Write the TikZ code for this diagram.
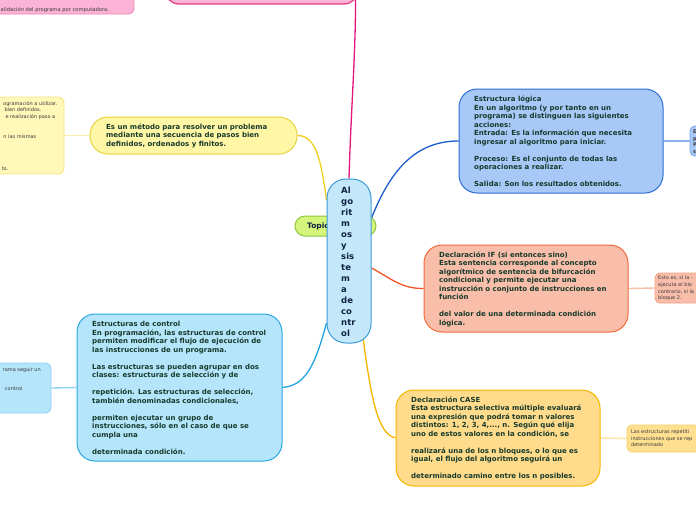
\documentclass[tikz,border=0pt]{standalone}
\usepackage{fontspec}
\setmainfont{DejaVu Sans}
\usetikzlibrary{backgrounds}
\definecolor{txt}{HTML}{173A2B}
\definecolor{ctrtxt}{HTML}{0F2242}
\definecolor{smtxt}{HTML}{3A3A3A}
\definecolor{pkfill}{HTML}{FBB3D6}
\definecolor{pkdraw}{HTML}{EE86BA}
\definecolor{pk2draw}{HTML}{E23A84}
\definecolor{magline}{HTML}{E5157C}
\definecolor{yfill}{HTML}{FFF6A6}
\definecolor{ydraw}{HTML}{EAD33C}
\definecolor{yline}{HTML}{F0D020}
\definecolor{ysfill}{HTML}{FFF8B8}
\definecolor{ysdraw}{HTML}{F6E48A}
\definecolor{ysline}{HTML}{FAF0A6}
\definecolor{cfill}{HTML}{C4E8FA}
\definecolor{cdraw}{HTML}{3B9BD8}
\definecolor{gfill}{HTML}{D5F47C}
\definecolor{gdraw}{HTML}{8FC43E}
\definecolor{bfill}{HTML}{A8C8F8}
\definecolor{bdraw}{HTML}{2C6ED4}
\definecolor{bline}{HTML}{1E5CCB}
\definecolor{bsline}{HTML}{8EB3EC}
\definecolor{bsdraw}{HTML}{7FA9EA}
\definecolor{sfill}{HTML}{F9BEAA}
\definecolor{sdraw}{HTML}{F26A3B}
\definecolor{sline}{HTML}{F05426}
\definecolor{ssdraw}{HTML}{F6A287}
\definecolor{ssline}{HTML}{F9BCA6}
\definecolor{ofill}{HTML}{FFDB8B}
\definecolor{odraw}{HTML}{F6B700}
\definecolor{oline}{HTML}{F4B400}
\definecolor{osfill}{HTML}{FFDF90}
\definecolor{osdraw}{HTML}{FBD06E}
\definecolor{osline}{HTML}{FDE4A6}
\definecolor{lfill}{HTML}{B4E5FB}
\definecolor{ldraw}{HTML}{2AA7E2}
\definecolor{lline}{HTML}{22A2DF}
\definecolor{lsdraw}{HTML}{8ED3F3}
\definecolor{lsline}{HTML}{90D4F3}
\tikzset{
  shapebox/.style={draw, line width=1pt, rounded corners=16pt, inner sep=0pt},
  sidebox/.style={draw, line width=0.9pt, rounded corners=5pt, inner sep=0pt},
  bigtext/.style={anchor=west, align=left, inner sep=0pt, text=txt, font=\bfseries\fontsize{7}{8.5}\selectfont},
  smalltext/.style={inner sep=0pt, text=smtxt, font=\fontsize{5}{6.6}\selectfont, align=left},
  conn/.style={line width=1.3pt},
  sideconn/.style={line width=1.4pt},
}
\begin{document}
\begin{tikzpicture}[x=1pt,y=-1pt]
\useasboundingbox (0,0) rectangle (696,520);
\clip (0,0) rectangle (696,520);

% top-left pink (partial)
\node[sidebox, fill=pkfill, draw=pkdraw, rounded corners=6pt, minimum width=154pt, minimum height=44pt] (pk1) at (57,-8) {};
\node[smalltext, anchor=base west, font=\fontsize{5.2}{6.6}\selectfont] (pk1t) at (0.5,11) {alidación del programa por computadora.};

% top centre pink (partial)
\node[shapebox, fill=pkfill, draw=pk2draw, line width=1.2pt, rounded corners=14pt, minimum width=193pt, minimum height=44pt] (pk2) at (261.5,-18) {};

% left small yellow (partial)
\node[sidebox, fill=ysfill, draw=ysdraw, rounded corners=6pt, minimum width=84pt, minimum height=77pt] (ysm) at (22,135.5) {};
\node[smalltext, anchor=base east] (ys1) at (57.5,105) {ogramación a utilizar.};
\node[smalltext, anchor=base east] (ys2) at (41.5,111.5) {bien definidos.};
\node[smalltext, anchor=base east] (ys3) at (55.5,118) {e realización paso a};
\node[smalltext, anchor=base east] (ys4) at (36.5,138) {n las mismas};
\node[smalltext, anchor=base east] (ys5) at (8.5,170) {to.};

% main yellow
\node[shapebox, fill=yfill, draw=ydraw, rounded corners=18pt, minimum width=207pt, minimum height=37pt] (ym) at (193.5,135.5) {};
\node[bigtext] (ymt) at (106,135.5) {Es un método para resolver un problema\\mediante una secuencia de pasos bien\\definidos, ordenados y finitos.};

% topic (behind centre)
\node[shapebox, fill=gfill, draw=gdraw, rounded corners=10pt, minimum width=81pt, minimum height=20pt] (tp) at (335.5,226) {};
\node[anchor=west, inner sep=0pt, text=ctrtxt, font=\bfseries\fontsize{7.5}{9}\selectfont] (tpt) at (307,226) {Topic};

% centre
\node[shapebox, fill=cfill, draw=cdraw, rounded corners=19pt, minimum width=44pt, minimum height=164pt] (ctr) at (349,261) {};
\node[anchor=west, align=left, inner sep=0pt, text=ctrtxt, font=\bfseries\fontsize{8.5}{11}\selectfont] (ctrt) at (341,261.5) {Al\\go\\rit\\m\\os\\y\\sis\\te\\m\\a\\de\\co\\ntr\\ol};

% right blue
\node[shapebox, fill=bfill, draw=bdraw, rounded corners=18pt, minimum width=204pt, minimum height=104pt] (rb) at (561,141) {};
\node[bigtext] (rbt) at (474,141.5) {Estructura lógica\\
En un algoritmo (y por tanto en un\\
programa) se distinguen las siguientes\\
acciones:\\
Entrada: Es la información que necesita\\
ingresar al algoritmo para iniciar.\\[8.5pt]
Proceso: Es el conjunto de todas las\\
operaciones a realizar.\\[8.5pt]
Salida: Son los resultados obtenidos.};
\node[sidebox, fill=bfill, draw=bsdraw, minimum width=40pt, minimum height=30pt] (rbs) at (710,141) {};
\node[smalltext, anchor=west, font=\bfseries\fontsize{5}{6.5}\selectfont] (rbst) at (693,141.5) {E\\p\\P\\s};

% salmon
\node[shapebox, fill=sfill, draw=sdraw, rounded corners=18pt, minimum width=204pt, minimum height=87pt] (sb) at (526,288.5) {};
\node[bigtext] (sbt) at (439,289) {Declaración IF (si entonces sino)\\
Esta sentencia corresponde al concepto\\
algorítmico de sentencia de bifurcación\\
condicional y permite ejecutar una\\
instrucción o conjunto de instrucciones en\\
función\\[8.5pt]
del valor de una determinada condición\\
lógica.};
\node[sidebox, fill=sfill, draw=ssdraw, minimum width=65pt, minimum height=30pt] (sbs) at (687.5,288) {};
\node[smalltext, anchor=west] (sbst) at (658,288.5) {Esto es, si la -\\ejecuta el blo\\contrario, si la\\bloque 2.};

% orange-yellow
\node[shapebox, fill=ofill, draw=odraw, rounded corners=18pt, minimum width=204pt, minimum height=96pt] (ob) at (498,438) {};
\node[bigtext] (obt) at (411,438.5) {Declaración CASE\\
Esta estructura selectiva múltiple evaluará\\
una expresión que podrá tomar n valores\\
distintos: 1, 2, 3, 4,..., n. Según qué elija\\
uno de estos valores en la condición, se\\[8.5pt]
realizará una de los n bloques, o lo que es\\
igual, el flujo del algoritmo seguirá un\\[8.5pt]
determinado camino entre los n posibles.};
\node[sidebox, fill=osfill, draw=osdraw, minimum width=93pt, minimum height=27pt] (obs) at (673.5,438.5) {};
\node[smalltext, anchor=west] (obst) at (631,438.5) {Las estructuras repetiti\\instrucciones que se rep\\determinado};

% bottom-left blue
\node[shapebox, fill=lfill, draw=ldraw, rounded corners=18pt, minimum width=205pt, minimum height=147pt] (lb) at (179.5,387.5) {};
\node[bigtext] (lbt) at (92,388) {Estructuras de control\\
En programación, las estructuras de control\\
permiten modificar el flujo de ejecución de\\
las instrucciones de un programa.\\[8.5pt]
Las estructuras se pueden agrupar en dos\\
clases: estructuras de selección y de\\[8.5pt]
repetición. Las estructuras de selección,\\
también denominadas condicionales,\\[8.5pt]
permiten ejecutar un grupo de\\
instrucciones, sólo en el caso de que se\\
cumpla una\\[8.5pt]
determinada condición.};
\node[sidebox, fill=lfill, draw=lsdraw, rounded corners=6pt, minimum width=71pt, minimum height=50pt] (lbs) at (15.5,388) {};
\node[smalltext, anchor=base east] (lbs1) at (41,371) {rama seguir un};
\node[smalltext, anchor=base east] (lbs2) at (22.5,390) {control};

% connectors
\begin{scope}[on background layer]
\fill[white] (0,0) rectangle (696,520);
\draw[conn, magline] (ctr.north) .. controls +(2,-70) and +(0,60) .. ([xshift=-3pt,yshift=8pt]pk2.south east);
\draw[conn, yline] ([yshift=61pt]ctr.west) .. controls +(-5,-35) and +(20,0) .. (ym.east);
\draw[conn, bline] ([yshift=43pt]ctr.east) .. controls +(18,-45) and +(-45,0) .. (rb.west);
\draw[conn, sline] ([yshift=-7pt]ctr.east) .. controls +(22,12) and +(-22,0) .. (sb.west);
\draw[conn, oline] ([xshift=14pt,yshift=6pt]ctr.south) .. controls +(8,60) and +(-18,-4) .. (ob.west);
\draw[conn, lline] ([yshift=-62pt]ctr.west) .. controls +(-12,45) and +(22,-2) .. (lb.east);
\draw[sideconn, ysline] (ysm.east) -- (ym.west);
\draw[sideconn, bsline] (rb.east) -- (rbs.west);
\draw[sideconn, ssline] (sb.east) -- (sbs.west);
\draw[sideconn, osline] (ob.east) -- (obs.west);
\draw[sideconn, lsline] (lb.west) -- (lbs.east);
\end{scope}
\end{tikzpicture}
\end{document}
